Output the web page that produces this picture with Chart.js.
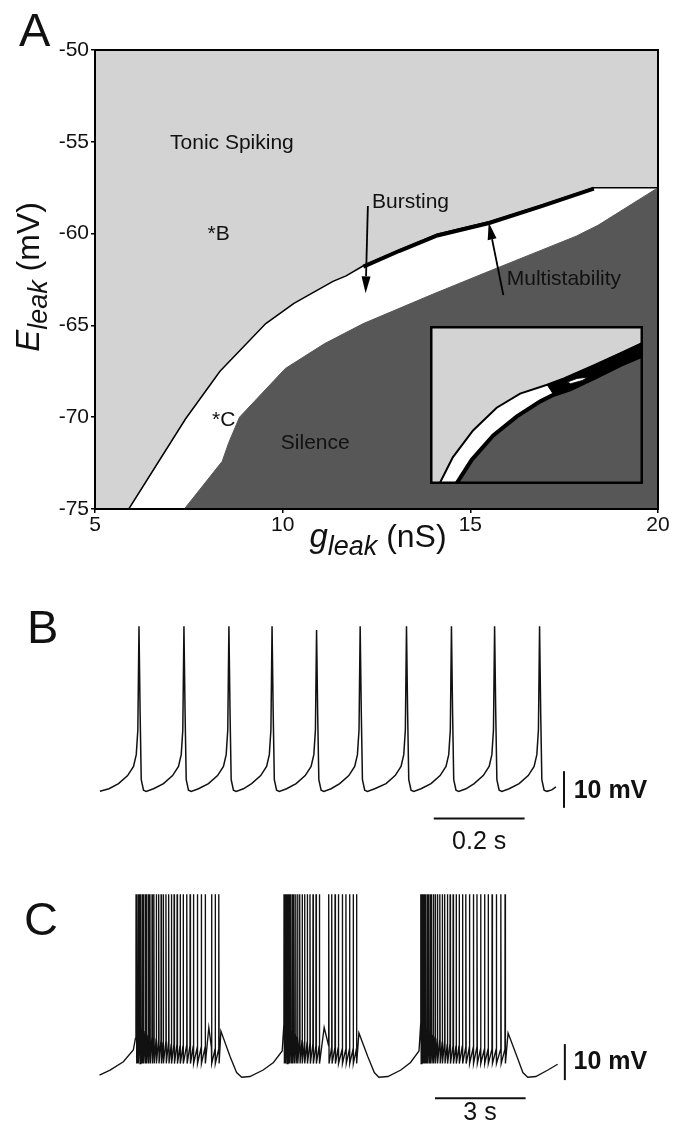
<!DOCTYPE html>
<html>
<head>
<meta charset="utf-8">
<script src="https://cdn.jsdelivr.net/npm/chart.js@4.4.0/dist/chart.umd.min.js"></script>
<style>
  html, body { margin: 0; padding: 0; background: #fff; }
  #page { position: relative; width: 679px; height: 1132px; overflow: hidden; }
  .panel { position: absolute; left: 0; }
</style>
</head>
<body>
<div id="page">
  <div class="panel" style="top:0;width:679px;height:570px"><canvas id="chart-a"></canvas></div>
  <div class="panel" style="left:430px;top:326px;width:213px;height:158px"><canvas id="chart-inset"></canvas></div>
  <div class="panel" style="top:597px;width:679px;height:264px"><canvas id="chart-b"></canvas></div>
  <div class="panel" style="top:869px;width:679px;height:263px"><canvas id="chart-c"></canvas></div>
</div>
<script>
// =====================
// Data
// =====================

// Panel A: phase diagram, gleak (nS) vs Eleak (mV)
const gTicks = [5, 10, 15, 20];
const eTicks = [-75, -70, -65, -60, -55, -50];
// tonic spiking / bursting border
const upperG = [5.9, 7.41, 8.33, 9.55, 10.3, 11.34, 11.69, 12.15, 13.1, 14.12, 15.5, 16.9, 18.29, 20];
const upperE = [-75, -70.1, -67.5, -64.9, -63.8, -62.6, -62.3, -61.75, -60.9, -60.04, -59.36, -58.45, -57.5, -57.5];
// bursting / silence border
const lowerG = [7.38, 8.39, 8.56, 8.85, 10.07, 11.11, 12.15, 14.0, 15.5, 17.82, 18.4, 20];
const lowerE = [-75, -72.4, -71.4, -70, -67.35, -66, -64.9, -63.3, -62.05, -60.14, -59.55, -57.5];
// thin multistability band
const multiG = [12.15, 13.1, 14.12, 15.5, 16.9, 18.29];
const multiE = [-61.8, -60.95, -60.1, -59.42, -58.5, -57.55];

// Inset (zoomed corner, unit coordinates)
const insetUpperU = [0.044, 0.107, 0.202, 0.313, 0.423, 0.55, 0.629, 0.771, 0.897, 1.0];
const insetUpperV = [0, 0.169, 0.339, 0.483, 0.572, 0.628, 0.668, 0.752, 0.83, 0.895];
const insetLowerU = [0.123, 0.196, 0.297, 0.408, 0.518, 0.581, 0.66, 0.771, 0.897, 1.0];
const insetLowerV = [0, 0.153, 0.307, 0.428, 0.523, 0.565, 0.6, 0.672, 0.755, 0.815];
const insetHoleU = [0.645, 0.69, 0.74, 0.715, 0.66, 0.645];
const insetHoleV = [0.645, 0.668, 0.676, 0.655, 0.635, 0.645];

// Panel B: tonic spiking, time (ms) / voltage (mV)
const bTime = [
  0, 20, 41, 61, 74, 80, 83.5, 86,
  88.5, 91, 96, 102, 118, 140, 160, 173, 179, 182.5, 185,
  187.5, 190, 195, 201, 217, 239, 259, 272, 278, 281.5, 284,
  286.5, 289, 294, 300, 316, 334, 354, 367, 373, 376.5, 379,
  381.5, 384, 389, 395, 411, 432, 452, 465, 471, 474.5, 477,
  479.5, 482, 487, 493, 509, 528, 548, 561, 567, 570.5, 573,
  575.5, 578, 583, 589, 605, 630, 650, 663, 669, 672.5, 675,
  677.5, 680, 685, 691, 707, 729, 749, 762, 768, 771.5, 774,
  776.5, 779, 784, 790, 806, 824, 844, 857, 863, 866.5, 869,
  871.5, 874, 879, 885, 901, 923, 943, 956, 962, 965.5, 968,
  970.5, 973, 978, 984, 995, 1004
];
const bVolt = [
  -65, -64.3, -62.9, -60.7, -58.2, -55, -48.2, -20,
  -43.6, -61.8, -64.7, -65, -64.3, -62.9, -60.7, -58.2, -55, -48.2, -20,
  -43.6, -61.8, -64.7, -65, -64.3, -62.9, -60.7, -58.2, -55, -48.2, -20,
  -43.6, -61.8, -64.7, -65, -64.3, -62.9, -60.7, -58.2, -55, -48.2, -20,
  -43.6, -61.8, -64.7, -65, -64.3, -62.9, -60.7, -58.2, -55, -48.2, -21,
  -44.2, -61.8, -64.7, -65, -64.3, -62.9, -60.7, -58.2, -55, -48.2, -20,
  -43.6, -61.8, -64.7, -65, -64.3, -62.9, -60.7, -58.2, -55, -48.2, -20,
  -43.6, -61.8, -64.7, -65, -64.3, -62.9, -60.7, -58.2, -55, -48.2, -20,
  -43.6, -61.8, -64.7, -65, -64.3, -62.9, -60.7, -58.2, -55, -48.2, -20,
  -43.6, -61.8, -64.7, -65, -64.3, -62.9, -60.7, -58.2, -55, -48.2, -20,
  -43.6, -61.8, -64.7, -65, -64.6, -63.8
];

// Panel C: bursting, time (s) / voltage (mV)
const cBurst1 = [1.21, 1.24, 1.28, 1.33, 1.37, 1.42, 1.46, 1.52, 1.56, 1.62, 1.67, 1.74, 1.80, 1.88, 1.96, 2.04, 2.11,
  2.20, 2.29, 2.38, 2.47, 2.57, 2.67, 2.77, 2.89, 3.00, 3.11, 3.24, 3.37, 3.50, 3.71, 3.83, 3.95];
const cPre1 = [-50, -50, -50.5, -51, -51, -51.5, -52, -52, -52.5, -53, -53, -53.5, -54, -54, -54.5, -54.5, -55,
  -55, -55, -55.5, -55.5, -55.5, -56, -56, -56, -56, -56, -56.5, -56.5, -56.5, -56.5, -57, -57];
const cBurst2 = [6.11, 6.155, 6.20, 6.245, 6.29, 6.34, 6.39, 6.44, 6.50, 6.56, 6.63, 6.71, 6.79, 6.88, 6.97, 7.07,
  7.17, 7.28, 7.59, 7.69, 7.80, 7.91, 8.04, 8.16, 8.28, 8.40, 8.51];
const cPre2 = [-50, -50, -50.5, -51, -51.5, -52, -52, -52.5, -53, -53.5, -54, -54.5, -55, -55, -55.5, -55.5,
  -56, -56, -56, -56.5, -56.5, -56.5, -57, -57, -57, -57, -57];
const cBurst3 = [10.64, 10.68, 10.72, 10.76, 10.80, 10.85, 10.90, 10.95, 11.00, 11.06, 11.12, 11.19, 11.27, 11.35,
  11.43, 11.52, 11.61, 11.71, 11.81, 11.91, 12.02, 12.13, 12.25, 12.38, 12.50, 12.62, 12.75, 12.87, 13.00, 13.14,
  13.29, 13.43];
const cPre3 = [-50, -50, -50.5, -51, -51, -51.5, -52, -52.5, -53, -53, -53.5, -54, -54.5, -55, -55, -55.5,
  -55.5, -56, -56, -56, -56, -56.5, -56.5, -56.5, -56.5, -57, -57, -57, -57, -57, -57, -57];
const cPeakV = -14;
const cTroughV = -61;
// failed spikes inside bursts
const cHumpT = [3.62, 7.44];
const cHumpV = [-51, -51];
// slow waves between bursts
const cRampT = [0, 0.35, 0.79, 1.12, 1.19,
  4.02, 4.32, 4.54, 4.71, 4.98, 5.42, 5.76, 6.05,
  8.59, 8.88, 9.10, 9.25, 9.55, 9.98, 10.30, 10.58,
  13.53, 13.82, 14.02, 14.18, 14.45, 14.85, 15.17];
const cRampV = [-64.2, -62.8, -60.5, -57.2, -54,
  -52, -59, -63.5, -64.8, -64.6, -62.8, -60.7, -57.5,
  -52.5, -59, -63.5, -64.8, -64.6, -62.8, -60.7, -57.5,
  -52.5, -59, -63.5, -64.8, -64.6, -62.8, -61.2];

// =====================
// Layout / style
// =====================
const FONT = '"Liberation Sans", Arial, Helvetica, sans-serif';
const LIGHT = '#d3d3d3';
const DARK = '#575757';
const INK = '#111';

const aLabels = [
  { text: 'Tonic Spiking', g: 7.0, e: -55.07 },
  { text: 'Bursting', g: 12.38, e: -58.3 },
  { text: '*B', g: 8.0, e: -60.04 },
  { text: 'Multistability', g: 15.97, e: -62.5 },
  { text: '*C', g: 8.12, e: -70.18 },
  { text: 'Silence', g: 9.95, e: -71.44 }
];
const aArrows = [
  { from: [12.27, -58.5], to: [12.21, -63.25] },
  { from: [15.88, -63.35], to: [15.49, -59.4] }
];

// =====================
// Utility Functions
// =====================
function zip(xs, ys) {
  return xs.map((x, i) => ({ x: x, y: ys[i] }));
}

function toPx(chart, x, y) {
  return [chart.scales.x.getPixelForValue(x), chart.scales.y.getPixelForValue(y)];
}

function drawArrow(ctx, x1, y1, x2, y2) {
  const ang = Math.atan2(y2 - y1, x2 - x1);
  const len = 17, half = 4.5;
  const bx = x2 - len * Math.cos(ang), by = y2 - len * Math.sin(ang);
  ctx.save();
  ctx.strokeStyle = '#000';
  ctx.fillStyle = '#000';
  ctx.lineWidth = 1.8;
  ctx.beginPath(); ctx.moveTo(x1, y1); ctx.lineTo(bx, by); ctx.stroke();
  ctx.beginPath();
  ctx.moveTo(x2, y2);
  ctx.lineTo(bx + half * Math.sin(ang), by - half * Math.cos(ang));
  ctx.lineTo(bx - half * Math.sin(ang), by + half * Math.cos(ang));
  ctx.closePath();
  ctx.fill();
  ctx.restore();
}

// text made of pieces with their own font and baseline shift (for subscripts)
function drawPieces(ctx, pieces, cx, baseY, rotate) {
  ctx.save();
  ctx.translate(cx, baseY);
  if (rotate) ctx.rotate(-Math.PI / 2);
  let total = 0;
  pieces.forEach(p => { ctx.font = p.font; total += ctx.measureText(p.t).width; });
  let x = -total / 2;
  ctx.fillStyle = INK;
  ctx.textBaseline = 'alphabetic';
  ctx.textAlign = 'left';
  pieces.forEach(p => {
    ctx.font = p.font;
    ctx.fillText(p.t, x, p.dy);
    x += ctx.measureText(p.t).width;
  });
  ctx.restore();
}

function panelLetter(ctx, letter, x, y) {
  ctx.save();
  ctx.font = '47px ' + FONT;
  ctx.fillStyle = INK;
  ctx.textAlign = 'left';
  ctx.textBaseline = 'alphabetic';
  ctx.fillText(letter, x, y);
  ctx.restore();
}

function baseOptions(xMin, xMax, yMin, yMax) {
  return {
    responsive: true,
    maintainAspectRatio: false,
    animation: false,
    events: [],
    layout: { padding: 0 },
    elements: { point: { radius: 0 }, line: { tension: 0 } },
    plugins: { legend: { display: false }, tooltip: { enabled: false } },
    scales: {
      x: { type: 'linear', display: false, min: xMin, max: xMax },
      y: { type: 'linear', display: false, min: yMin, max: yMax }
    }
  };
}

// =====================
// Render Functions
// =====================
function renderPhaseDiagram() {
  const tickFont = { family: FONT, size: 21 };
  const axisGrid = { display: true, drawOnChartArea: false, drawTicks: true, tickLength: 4, color: '#000', lineWidth: 1.5 };
  const axisBorder = { display: true, color: '#000', width: 2 };

  const phasePlugin = {
    id: 'phase',
    beforeDraw(chart) {
      const a = chart.chartArea, ctx = chart.ctx;
      ctx.save();
      ctx.fillStyle = LIGHT;
      ctx.fillRect(a.left, a.top, a.right - a.left, a.bottom - a.top);
      ctx.restore();
    },
    afterDraw(chart) {
      const a = chart.chartArea, ctx = chart.ctx;
      ctx.save();
      ctx.strokeStyle = '#000';
      ctx.lineWidth = 2;
      ctx.strokeRect(a.left, a.top, a.right - a.left, a.bottom - a.top);

      ctx.font = '21px ' + FONT;
      ctx.fillStyle = INK;
      ctx.textAlign = 'left';
      ctx.textBaseline = 'middle';
      aLabels.forEach(l => {
        const [x, y] = toPx(chart, l.g, l.e);
        ctx.fillText(l.text, x, y);
      });
      ctx.restore();

      aArrows.forEach(ar => {
        const [x1, y1] = toPx(chart, ar.from[0], ar.from[1]);
        const [x2, y2] = toPx(chart, ar.to[0], ar.to[1]);
        drawArrow(ctx, x1, y1, x2, y2);
      });

      // axis titles
      drawPieces(ctx, [
        { t: 'E', font: 'italic 33px ' + FONT, dy: 0 },
        { t: 'leak', font: 'italic 27px ' + FONT, dy: 8 },
        { t: ' (mV)', font: '32px ' + FONT, dy: 0 }
      ], 39, 277, true);
      drawPieces(ctx, [
        { t: 'g', font: 'italic 33px ' + FONT, dy: 0 },
        { t: 'leak', font: 'italic 27px ' + FONT, dy: 8 },
        { t: ' (nS)', font: '32px ' + FONT, dy: 0 }
      ], 378, 547, false);

      panelLetter(ctx, 'A', 19, 46);
    }
  };

  new Chart(document.getElementById('chart-a'), {
    type: 'line',
    data: {
      datasets: [
        { data: zip(multiG, multiE), borderColor: '#000', borderWidth: 4, fill: false },
        { data: zip(lowerG, lowerE), borderColor: DARK, borderWidth: 1, backgroundColor: DARK, fill: 'start' },
        { data: zip(upperG, upperE), borderColor: '#000', borderWidth: 1.5, backgroundColor: '#fff', fill: 'start' }
      ]
    },
    options: {
      responsive: true,
      maintainAspectRatio: false,
      animation: false,
      events: [],
      layout: { padding: { top: 50, right: 21, left: 0, bottom: 0 } },
      elements: { point: { radius: 0 }, line: { tension: 0 } },
      plugins: { legend: { display: false }, tooltip: { enabled: false } },
      scales: {
        x: {
          type: 'linear', min: 5, max: 20,
          afterBuildTicks: s => { s.ticks = gTicks.map(v => ({ value: v })); },
          afterFit: s => { s.height = 61; },
          grid: axisGrid, border: axisBorder,
          ticks: { font: tickFont, color: INK, padding: 0, maxRotation: 0, autoSkip: false }
        },
        y: {
          type: 'linear', min: -75, max: -50,
          afterBuildTicks: s => { s.ticks = eTicks.map(v => ({ value: v })); },
          afterFit: s => { s.width = 95; },
          grid: axisGrid, border: axisBorder,
          ticks: { font: tickFont, color: INK, padding: 2, autoSkip: false }
        }
      }
    },
    plugins: [phasePlugin]
  });
}

function renderInset() {
  const bandU = insetUpperU.slice(5).concat(insetLowerU.slice(5).reverse(), [insetUpperU[5]]);
  const bandV = insetUpperV.slice(5).concat(insetLowerV.slice(5).reverse(), [insetUpperV[5]]);

  const insetPlugin = {
    id: 'insetFrame',
    beforeDraw(chart) {
      const ctx = chart.ctx;
      ctx.save();
      ctx.fillStyle = LIGHT;
      ctx.fillRect(0, 0, chart.width, chart.height);
      ctx.restore();
    },
    afterDraw(chart) {
      const ctx = chart.ctx;
      ctx.save();
      ctx.strokeStyle = '#000';
      ctx.lineWidth = 2.5;
      ctx.strokeRect(1.25, 1.25, chart.width - 2.5, chart.height - 2.5);
      ctx.restore();
    }
  };

  new Chart(document.getElementById('chart-inset'), {
    type: 'line',
    data: {
      datasets: [
        { data: zip(insetHoleU, insetHoleV), borderColor: '#000', borderWidth: 0.8, backgroundColor: '#fff', fill: 'shape' },
        { data: zip(bandU, bandV), borderColor: '#000', borderWidth: 1, backgroundColor: '#000', fill: 'shape' },
        { data: zip(insetLowerU, insetLowerV), borderColor: '#000', borderWidth: 4, backgroundColor: DARK, fill: 'start' },
        { data: zip(insetUpperU, insetUpperV), borderColor: '#000', borderWidth: 2, backgroundColor: '#fff', fill: 'start' }
      ]
    },
    options: baseOptions(0, 1, 0, 1),
    plugins: [insetPlugin]
  });
}

function renderTonicTrace() {
  const barTime = [735, 935];      // 0.2 s
  const barVolt = [-69.5, -59.5];  // 10 mV

  const tracePlugin = {
    id: 'tonicText',
    afterDraw(chart) {
      const ctx = chart.ctx;
      ctx.save();
      ctx.fillStyle = INK;
      ctx.textBaseline = 'middle';
      ctx.font = '25px ' + FONT;
      ctx.textAlign = 'center';
      let [x, y] = toPx(chart, 835, -78.8);
      ctx.fillText('0.2 s', x, y);
      ctx.font = 'bold 25px ' + FONT;
      ctx.textAlign = 'left';
      [x, y] = toPx(chart, 1043, -65);
      ctx.fillText('10 mV', x, y);
      ctx.restore();
      panelLetter(ctx, 'B', 27, 46);
    }
  };

  new Chart(document.getElementById('chart-b'), {
    type: 'line',
    data: {
      datasets: [
        { data: zip(bTime, bVolt), borderColor: INK, borderWidth: 1.5, fill: false },
        { data: zip(barTime, [-72.4, -72.4]), borderColor: INK, borderWidth: 2, fill: false },
        { data: zip([1021.8, 1021.8], barVolt), borderColor: INK, borderWidth: 2, fill: false }
      ]
    },
    options: baseOptions(-220, 1275, -84, -12),
    plugins: [tracePlugin]
  });
}

function buildBurstTrace() {
  const pts = zip(cRampT, cRampV).concat(zip(cHumpT, cHumpV));
  [[cBurst1, cPre1], [cBurst2, cPre2], [cBurst3, cPre3]].forEach(([times, pres]) => {
    times.forEach((t, i) => {
      pts.push({ x: t - 0.004, y: pres[i] });
      pts.push({ x: t, y: cPeakV });
      pts.push({ x: t + 0.012, y: cTroughV });
    });
  });
  return pts.sort((a, b) => a.x - b.x);
}

function renderBurstTrace() {
  const barTime = [11.11, 14.11];  // 3 s
  const barVolt = [-65.6, -55.6];  // 10 mV

  const tracePlugin = {
    id: 'burstText',
    afterDraw(chart) {
      const ctx = chart.ctx;
      ctx.save();
      ctx.fillStyle = INK;
      ctx.textBaseline = 'middle';
      ctx.font = '25px ' + FONT;
      ctx.textAlign = 'center';
      let [x, y] = toPx(chart, 12.6, -74.7);
      ctx.fillText('3 s', x, y);
      ctx.font = 'bold 25px ' + FONT;
      ctx.textAlign = 'left';
      [x, y] = toPx(chart, 15.7, -60.6);
      ctx.fillText('10 mV', x, y);
      ctx.restore();
      panelLetter(ctx, 'C', 24, 66);
    }
  };

  new Chart(document.getElementById('chart-c'), {
    type: 'line',
    data: {
      datasets: [
        { data: buildBurstTrace(), borderColor: INK, borderWidth: 1.35, fill: false },
        { data: zip(barTime, [-70.6, -70.6]), borderColor: INK, borderWidth: 2, fill: false },
        { data: zip([15.41, 15.41], barVolt), borderColor: INK, borderWidth: 2, fill: false }
      ]
    },
    options: baseOptions(-3.295, 19.19, -80, -7),
    plugins: [tracePlugin]
  });
}

// =====================
// Initialization
// =====================
function initFigure() {
  renderPhaseDiagram();
  renderInset();
  renderTonicTrace();
  renderBurstTrace();
}

document.addEventListener('DOMContentLoaded', initFigure);
</script>
</body>
</html>
